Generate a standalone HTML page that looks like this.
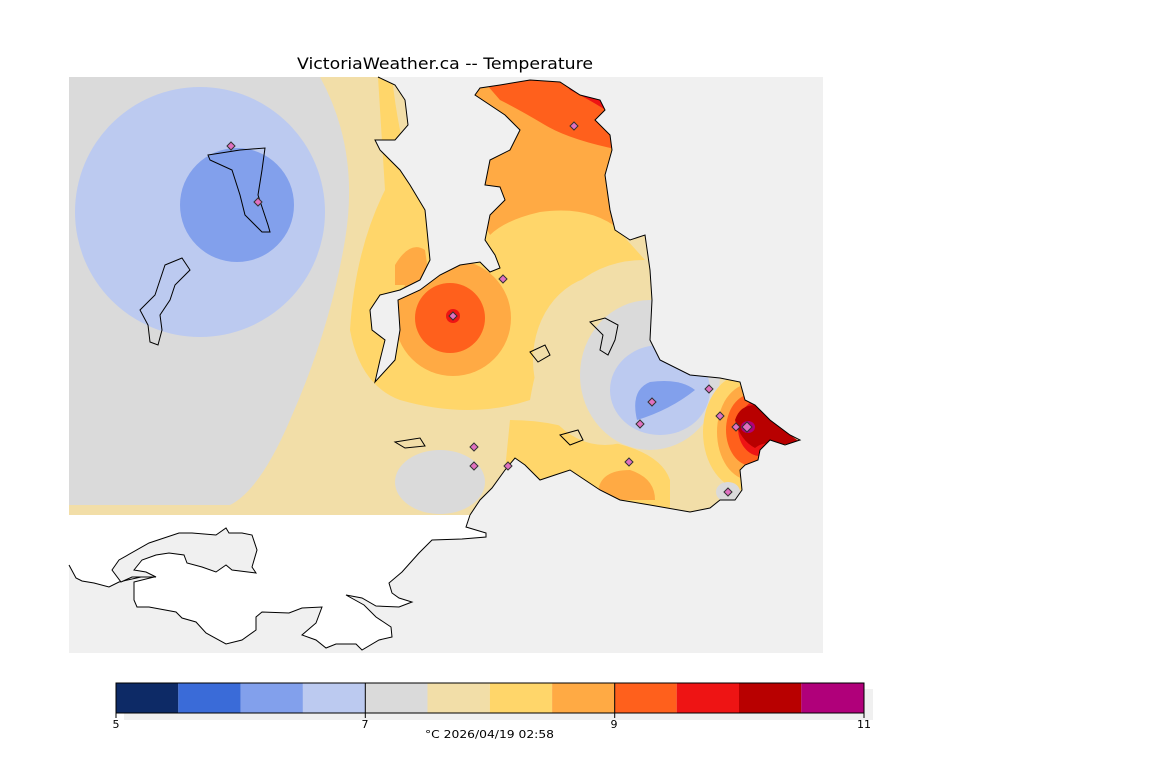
<!DOCTYPE html>
<html><head><style>
html,body{margin:0;padding:0;background:#fff;width:1152px;height:768px;overflow:hidden}
svg{display:block;font-family:"DejaVu Sans","Liberation Sans",sans-serif}
</style></head><body>
<svg width="1152" height="768" viewBox="0 0 1152 768">
<defs>
<clipPath id="land">
<path d="M69,77 L378,77 L395,85 L405,100 L408,125 L395,140 L375,140 L380,150 L400,170 L410,185 L425,210 L430,260 L420,280 L400,290 L380,295 L370,310 L372,330 L385,340 L380,360 L375,382 L395,360 L400,330 L398,300 L420,290 L440,275 L460,265 L480,262 L490,272 L500,268 L495,255 L485,240 L490,215 L505,200 L500,187 L485,185 L490,160 L510,150 L520,130 L505,115 L490,105 L475,95 L480,88 L500,85 L530,80 L560,82 L580,95 L600,100 L605,110 L595,120 L610,135 L612,150 L605,175 L610,210 L615,230 L630,240 L645,235 L650,270 L652,300 L650,340 L660,360 L690,375 L720,378 L740,382 L745,400 L755,405 L770,420 L790,435 L800,440 L785,445 L770,440 L760,450 L758,460 L745,465 L740,470 L742,490 L735,500 L720,500 L710,508 L690,512 L650,505 L620,500 L600,490 L585,480 L570,470 L555,475 L540,480 L525,465 L515,458 L505,470 L492,488 L480,500 L470,515 L69,515 Z"/>
</clipPath>
</defs>
<rect x="69" y="77" width="754" height="576" fill="#f0f0f0"/>
<path d="M69,515 L470,515 L466,527 L486,533 L486,537 L462,539 L432,540 L419,553 L402,572 L389,583 L392,593 L399,598 L412,602 L399,607 L376,606 L362,598 L346,595 L364,605 L376,617 L391,627 L392,637 L379,640 L362,650 L356,644 L336,644 L326,648 L316,640 L302,635 L316,623 L322,607 L302,608 L289,613 L262,612 L256,617 L256,630 L242,640 L226,644 L206,633 L196,622 L182,618 L176,612 L149,607 L137,607 L134,600 L134,582 L154,577 L141,577 L132,579 L119,582 L109,587 L94,583 L82,581 L76,578 L69,565 Z" fill="#fff"/>
<path d="M470,515 L466,527 L486,533 L486,537 L462,539 L432,540 L419,553 L402,572 L389,583 L392,593 L399,598 L412,602 L399,607 L376,606 L362,598 L346,595 L364,605 L376,617 L391,627 L392,637 L379,640 L362,650 L356,644 L336,644 L326,648 L316,640 L302,635 L316,623 L322,607 L302,608 L289,613 L262,612 L256,617 L256,630 L242,640 L226,644 L206,633 L196,622 L182,618 L176,612 L149,607 L137,607 L134,600 L134,582 L154,577 L141,577 L132,579 L119,582 L109,587 L94,583 L82,581 L76,578 L69,565" fill="none" stroke="#000"/>
<path d="M112,570 L119,560 L149,543 L179,533 L192,533 L216,535 L226,528 L229,533 L242,533 L252,535 L257,550 L252,567 L256,573 L232,570 L226,565 L216,572 L202,567 L187,563 L184,555 L169,553 L156,555 L142,560 L134,570 L146,572 L156,577 L132,577 L121,582 Z" fill="#f0f0f0" stroke="#000"/>
<g clip-path="url(#land)">
<rect x="69" y="77" width="754" height="450" fill="#f2dea8"/>
<path d="M69,77 L320,77 Q360,150 345,240 Q330,330 290,420 Q260,490 230,505 L69,505 Z" fill="#dadada"/>
<ellipse cx="440" cy="482" rx="45" ry="32" fill="#dadada"/>
<circle cx="200" cy="212" r="125" fill="#bccaf0"/>
<circle cx="237" cy="205" r="57" fill="#82a0ec"/>
<path d="M378,77 L392,77 Q400,150 420,200 Q470,160 520,210 L600,210 L645,260 Q600,260 570,290 Q540,340 530,400 Q470,420 400,400 Q360,385 350,330 Q355,250 385,190 Z" fill="#ffd66a"/>
<path d="M470,77 L620,77 L620,230 Q590,205 540,212 Q505,220 490,235 L470,200 Z" fill="#ffaa44"/>
<path d="M480,77 L620,77 L620,150 Q570,140 545,125 Q520,110 500,100 Z" fill="#ff601c"/>
<path d="M560,77 L620,77 L620,120 Q600,105 570,90 Z" fill="#ee1414"/>
<path d="M395,265 Q410,240 425,250 L430,285 L395,285 Z" fill="#ffaa44"/>
<circle cx="453" cy="318" r="58" fill="#ffaa44"/>
<circle cx="450" cy="318" r="35" fill="#ff601c"/>
<circle cx="453" cy="316" r="7" fill="#ee1414"/>
<path d="M510,420 Q560,420 600,440 Q660,450 670,480 L670,520 L500,520 Z" fill="#ffd66a"/>
<path d="M598,492 Q600,470 630,470 Q655,478 655,500 L600,500 Z" fill="#ffaa44"/>
<ellipse cx="605" cy="360" rx="72" ry="85" fill="#f2dea8"/>
<ellipse cx="650" cy="375" rx="70" ry="75" fill="#dadada"/>
<ellipse cx="660" cy="390" rx="50" ry="45" fill="#bccaf0"/>
<path d="M637,420 Q630,390 650,382 Q680,378 695,390 Q670,410 637,420 Z" fill="#82a0ec"/>
<ellipse cx="745" cy="432" rx="42" ry="58" fill="#ffd66a"/>
<ellipse cx="750" cy="432" rx="33" ry="48" fill="#ffaa44"/>
<ellipse cx="752" cy="430" rx="26" ry="36" fill="#ff601c"/>
<ellipse cx="760" cy="428" rx="22" ry="28" fill="#ee1414"/>
<path d="M735,420 Q740,405 755,405 L790,435 L800,442 L780,445 Q765,440 755,448 Q740,440 735,420 Z" fill="#b80000"/>
<ellipse cx="748" cy="427" rx="7" ry="6" fill="#b0007a"/>
<ellipse cx="728" cy="492" rx="12" ry="10" fill="#dadada"/>
</g>
<path d="M378,77 L395,85 L405,100 L408,125 L395,140 L375,140 L380,150 L400,170 L410,185 L425,210 L430,260 L420,280 L400,290 L380,295 L370,310 L372,330 L385,340 L380,360 L375,382 L395,360 L400,330 L398,300 L420,290 L440,275 L460,265 L480,262 L490,272 L500,268 L495,255 L485,240 L490,215 L505,200 L500,187 L485,185 L490,160 L510,150 L520,130 L505,115 L490,105 L475,95 L480,88 L500,85 L530,80 L560,82 L580,95 L600,100 L605,110 L595,120 L610,135 L612,150 L605,175 L610,210 L615,230 L630,240 L645,235 L650,270 L652,300 L650,340 L660,360 L690,375 L720,378 L740,382 L745,400 L755,405 L770,420 L790,435 L800,440 L785,445 L770,440 L760,450 L758,460 L745,465 L740,470 L742,490 L735,500 L720,500 L710,508 L690,512 L650,505 L620,500 L600,490 L585,480 L570,470 L555,475 L540,480 L525,465 L515,458 L505,470 L492,488 L480,500 L470,515" fill="none" stroke="#000" stroke-width="1"/>
<path d="M208,155 L240,150 L265,148 L262,170 L258,195 L268,225 L270,232 L262,232 L245,215 L240,195 L232,170 L210,160 Z" fill="none" stroke="#000"/>
<path d="M165,265 L182,258 L190,270 L175,285 L170,300 L160,315 L162,330 L158,345 L150,342 L148,325 L140,310 L155,295 L160,280 Z" fill="none" stroke="#000"/>
<path d="M590,322 L605,318 L618,325 L615,340 L608,355 L600,350 L603,335 Z" fill="none" stroke="#000"/>
<path d="M530,352 L545,345 L550,355 L538,362 Z" fill="none" stroke="#000"/>
<path d="M395,442 L420,438 L425,446 L405,448 Z" fill="none" stroke="#000"/>
<path d="M560,435 L578,430 L583,440 L570,445 Z" fill="none" stroke="#000"/>
<g fill="#e070c0" stroke="#333" stroke-width="1">
<path d="M231,142 l4,4 -4,4 -4,-4 Z"/><path d="M258,198 l4,4 -4,4 -4,-4 Z"/>
<path d="M574,122 l4,4 -4,4 -4,-4 Z"/><path d="M503,275 l4,4 -4,4 -4,-4 Z"/>
<path d="M453,312 l4,4 -4,4 -4,-4 Z"/><path d="M652,398 l4,4 -4,4 -4,-4 Z"/>
<path d="M709,385 l4,4 -4,4 -4,-4 Z"/><path d="M720,412 l4,4 -4,4 -4,-4 Z"/>
<path d="M640,420 l4,4 -4,4 -4,-4 Z"/><path d="M736,423 l4,4 -4,4 -4,-4 Z"/>
<path d="M747,422 l5,5 -5,5 -5,-5 Z"/><path d="M474,443 l4,4 -4,4 -4,-4 Z"/>
<path d="M474,462 l4,4 -4,4 -4,-4 Z"/><path d="M508,462 l4,4 -4,4 -4,-4 Z"/>
<path d="M728,488 l4,4 -4,4 -4,-4 Z"/><path d="M629,458 l4,4 -4,4 -4,-4 Z"/>
</g>
<text x="297" y="69" textLength="296" lengthAdjust="spacingAndGlyphs" font-size="16" fill="#000">VictoriaWeather.ca -- Temperature</text>
<rect x="124" y="689" width="749" height="31" fill="#f0f0f0"/>
<g>
<rect x="116" y="683" width="62.3" height="30" fill="#0d2a66"/>
<rect x="178.3" y="683" width="62.3" height="30" fill="#3a6bd8"/>
<rect x="240.6" y="683" width="62.3" height="30" fill="#82a0ec"/>
<rect x="302.9" y="683" width="62.3" height="30" fill="#bccaf0"/>
<rect x="365.2" y="683" width="62.3" height="30" fill="#dadada"/>
<rect x="427.5" y="683" width="62.3" height="30" fill="#f2dea8"/>
<rect x="489.8" y="683" width="62.3" height="30" fill="#ffd66a"/>
<rect x="552.1" y="683" width="62.3" height="30" fill="#ffaa44"/>
<rect x="614.4" y="683" width="62.3" height="30" fill="#ff601c"/>
<rect x="676.7" y="683" width="62.3" height="30" fill="#ee1414"/>
<rect x="739" y="683" width="62.3" height="30" fill="#b80000"/>
<rect x="801.3" y="683" width="62.7" height="30" fill="#b0007a"/>
</g>
<rect x="116" y="683" width="748" height="30" fill="none" stroke="#000"/>
<path d="M116,683 V718 M365.3,683 V718 M614.7,683 V718 M864,683 V718" stroke="#000"/>
<g font-size="11" text-anchor="middle" fill="#000">
<text x="116" y="728">5</text><text x="365" y="728">7</text><text x="614" y="728">9</text><text x="864" y="728">11</text>
</g>
<text x="425" y="738" textLength="129" lengthAdjust="spacingAndGlyphs" font-size="11" fill="#000">°C  2026/04/19 02:58</text>
</svg>
</body></html>
